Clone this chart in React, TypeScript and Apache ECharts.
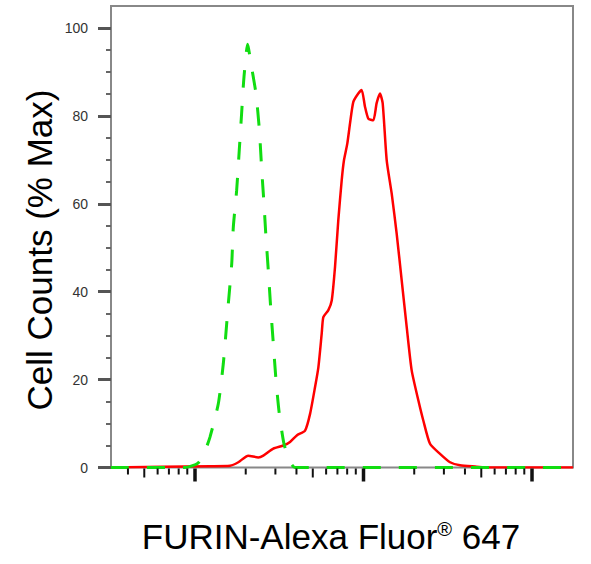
import React, { useEffect, useRef } from 'react';
import * as echarts from 'echarts';

// Isotype control (green dashed)
const greenValues = [317, 872, 1042, 1147, 1227, 1375, 1472, 1577, 1652, 1688, 1767, 1831, 1891, 1953, 2054, 2148, 2300, 2410, 2489, 2566, 2637, 2722, 2812, 2916, 3026, 3165, 3373, 3628, 3920, 175000];
const greenCounts = [0, 0, 1, 3.8, 6.9, 14.5, 23.6, 37.3, 46.4, 54.7, 63.1, 72.2, 80.6, 88.9, 96.3, 91.9, 85.1, 76.8, 67.7, 60.1, 52.5, 44.9, 36.5, 28.2, 19.8, 12.2, 5.4, 1.6, 0, 0];

// FURIN stained (red solid)
const redValues = [317, 1227, 1614, 1807, 2070, 2375, 2543, 2916, 3343, 3663, 4017, 4499, 4818, 5157, 5397, 5650, 5776, 6186, 6478, 6774, 7087, 7425, 7657, 8014, 8318, 8702, 9310, 9754, 10204, 10676, 11429, 11967, 12522, 12994, 13730, 14702, 15733, 16851, 18043, 19316, 21153, 22640, 24817, 28454, 32620, 37393, 46985, 53847, 175000];
const redCounts = [0, 0.3, 0.4, 1.2, 2.7, 2.3, 2.7, 4.3, 5.0, 5.8, 7.3, 8.4, 12.2, 18.3, 22.8, 30.5, 34.2, 35.8, 38.0, 45.6, 56.3, 65.4, 69.9, 73.7, 78.3, 83.2, 85.1, 85.9, 82.1, 79.4, 79.0, 82.9, 85.1, 82.9, 69.9, 62.3, 53.2, 42.6, 32.0, 22.1, 15.3, 10.7, 5.4, 3.1, 1.2, 0.5, 0.2, 0, 0];

// Axis ticks
const xMajorTicks = [1000, 10000, 100000];
const xMidTicks = [500, 5000, 50000];
const xMinorTicks = [400, 600, 700, 800, 900, 2000, 3000, 4000, 6000, 7000, 8000, 9000, 20000, 30000, 40000, 60000, 70000, 80000, 90000];
const yTickValues = [0, 20, 40, 60, 80, 100];

const xRange = [317.3, 175100];
const xTitleMain = 'FURIN-Alexa Fluor';
const xTitleSup = '®';
const xTitleTail = ' 647';
const yTitle = 'Cell Counts (% Max)';

const FONT = '"Liberation Sans", Arial, Helvetica, sans-serif';

export default function App() {
  const ref = useRef<HTMLDivElement>(null);
  useEffect(() => {
    if (!ref.current) return;
    const chart = echarts.init(ref.current, null, { renderer: 'svg' });
    const tickData = [
      ...xMajorTicks.map((v) => [v, 0, 2]),
      ...xMidTicks.map((v) => [v, 0, 1]),
      ...xMinorTicks.map((v) => [v, 0, 0]),
    ];
    const option: any = {
      animation: false,
      backgroundColor: '#ffffff',
      grid: { left: 111, right: 18, top: 28, bottom: 96.5, containLabel: false, outerBoundsMode: 'none' },
      xAxis: {
        type: 'log',
        logBase: 10,
        min: xRange[0],
        max: xRange[1],
        axisLine: { show: false },
        axisTick: { show: false },
        axisLabel: { show: false },
        splitLine: { show: false },
        minorTick: { show: false },
        minorSplitLine: { show: false },
      },
      yAxis: {
        type: 'value',
        min: yTickValues[0],
        max: yTickValues[yTickValues.length - 1],
        interval: 20,
        axisLine: { show: false },
        axisTick: { show: true, length: 13, lineStyle: { color: '#555', width: 3 } },
        minorTick: { show: true, splitNumber: 4, length: 5, lineStyle: { color: '#666', width: 2 } },
        axisLabel: { margin: 23, fontSize: 14, color: '#333', fontFamily: FONT },
        splitLine: { show: false },
      },
      graphic: [
        {
          type: 'rect',
          z: 0,
          silent: true,
          shape: { x: 111, y: 6, width: 462, height: 461.5 },
          style: { fill: 'none', stroke: '#888', lineWidth: 2 },
        },
        {
          type: 'text',
          x: 39,
          y: 250,
          rotation: Math.PI / 2,
          silent: true,
          style: {
            text: yTitle,
            fontSize: 35,
            fontFamily: FONT,
            fill: '#000',
            align: 'center',
            verticalAlign: 'middle',
          },
        },
        {
          type: 'text',
          x: 331,
          y: 536,
          silent: true,
          style: {
            text: '{a|' + xTitleMain + '}{b|' + xTitleSup + '}{a|' + xTitleTail + '}',
            align: 'center',
            verticalAlign: 'middle',
            fill: '#000',
            rich: {
              a: { fontSize: 35, fontFamily: FONT, fill: '#000' },
              b: { fontSize: 20, fontFamily: FONT, fill: '#000', verticalAlign: 'top' },
            },
          },
        },
      ],
      series: [
        {
          type: 'line',
          name: 'FURIN',
          data: redValues.map((v, i) => [v, redCounts[i]]),
          showSymbol: false,
          smooth: 0.2,
          silent: true,
          z: 3,
          lineStyle: { color: '#ff0000', width: 2.5 },
        },
        {
          type: 'line',
          name: 'Isotype',
          data: greenValues.map((v, i) => [v, greenCounts[i]]),
          showSymbol: false,
          smooth: 0.2,
          silent: true,
          z: 4,
          lineStyle: { color: '#11dd11', width: 3, type: [18, 18] },
        },
        {
          type: 'custom',
          clip: false,
          silent: true,
          z: 5,
          data: tickData,
          encode: { x: 0, y: 1 },
          renderItem: (params: any, api: any) => {
            const p = api.coord([api.value(0), 0]);
            const kind = api.value(2);
            const len = kind === 2 ? 13 : kind === 1 ? 9 : 6;
            const w = kind === 2 ? 3.5 : 2;
            return {
              type: 'line',
              shape: { x1: p[0], y1: p[1] + 1, x2: p[0], y2: p[1] + 1 + len },
              style: { stroke: '#111', lineWidth: w },
            };
          },
        },
      ],
    };
    chart.setOption(option);
    return () => chart.dispose();
  }, []);
  return (
    <div
      ref={ref}
      style={{ position: 'fixed', left: 0, top: 0, width: 591, height: 564, background: '#fff' }}
    />
  );
}
